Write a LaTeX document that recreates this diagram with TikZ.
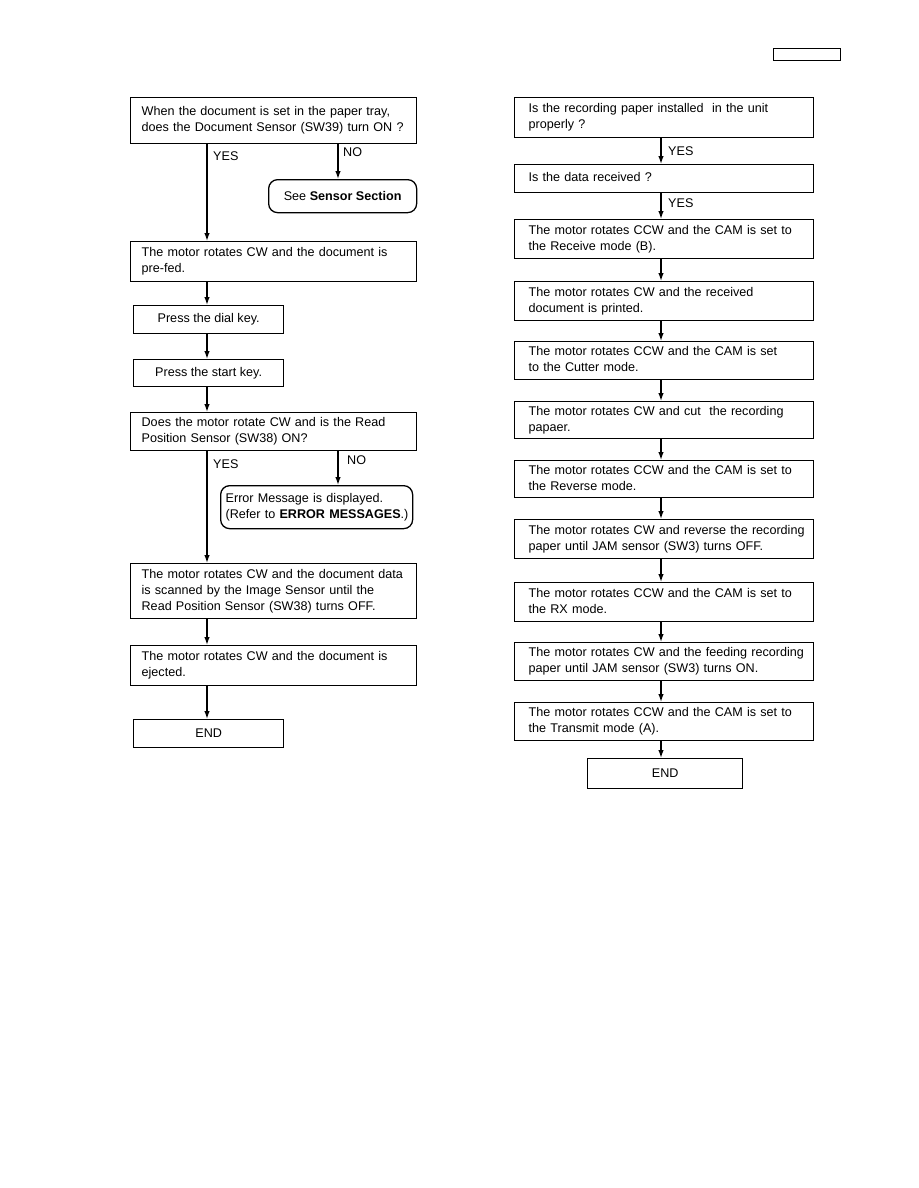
\documentclass[tikz,border=0pt]{standalone}
\usepackage{fontspec}
\setmainfont{Liberation Sans}
\usetikzlibrary{arrows.meta}

\newcommand\rows[1]{\begin{tabular}{@{}l@{}}#1\end{tabular}}

\tikzset{
  box/.style={draw, line width=1.3pt, anchor=north west, inner ysep=0pt,
    font=\fontsize{12.6}{16}\selectfont},
  leftbox/.style={box, inner xsep=11pt, text width=264pt},
  rightbox/.style={box, inner xsep=14pt, text width=271pt},
  smallbox/.style={box, align=center, inner xsep=0pt, minimum width=150pt},
  roundbox/.style={box, rounded corners=9pt},
  flow/.style={line width=1.3pt, -{Latex[length=8pt,width=5.5pt]}},
  answer/.style={anchor=west, inner sep=0pt, font=\fontsize{12.6}{16}\selectfont}
}

\begin{document}
\begin{tikzpicture}[x=1pt,y=-1pt]
  \useasboundingbox (0,0) rectangle (918,1188);
  \node[draw, line width=1.2pt, anchor=north west, minimum width=67pt, minimum height=12pt, inner sep=0pt] (tag) at (773,48) {};

  % left column
  \node[leftbox, minimum height=46pt] (L1) at (130,97) {\rows{When the document is set in the paper tray,\\does the Document Sensor (SW39) turn ON ?}};
  \node[roundbox, align=center, inner xsep=0pt, minimum width=148pt, minimum height=33pt] (sens) at (268,179) {See \textbf{Sensor Section}};
  \node[leftbox, minimum height=40pt] (L2) at (130,241) {\rows{The motor rotates CW and the document is\\pre-fed.}};
  \node[smallbox, minimum height=28pt] (L3) at (133,305) {Press the dial key.};
  \node[smallbox, minimum height=27pt] (L4) at (133,359) {Press the start key.};
  \node[leftbox, minimum height=38pt] (L5) at (130,412) {\rows{Does the motor rotate CW and is the Read\\Position Sensor (SW38) ON?}};
  \node[roundbox, inner xsep=5pt, text width=182pt, minimum height=43pt] (err) at (220,485) {\rows{Error Message is displayed.\\(Refer to \textbf{ERROR MESSAGES}.)}};
  \node[leftbox, minimum height=55pt] (L6) at (130,563) {\rows{The motor rotates CW and the document data\\is scanned by the Image Sensor until the\\Read Position Sensor (SW38) turns OFF.}};
  \node[leftbox, minimum height=40pt] (L7) at (130,645) {\rows{The motor rotates CW and the document is\\ejected.}};
  \node[smallbox, minimum height=28pt] (endL) at (133,719) {END};

  \coordinate (trunk) at (207,0);
  \coordinate (branch) at (338,0);
  \draw[flow] (trunk |- L1.south) -- (trunk |- L2.north);
  \draw[flow] (branch |- L1.south) -- (branch |- sens.north);
  \node[answer] (yes1) at (213,156) {YES};
  \node[answer] (no1) at (343,152) {NO};
  \draw[flow] (trunk |- L2.south) -- (trunk |- L3.north);
  \draw[flow] (trunk |- L3.south) -- (trunk |- L4.north);
  \draw[flow] (trunk |- L4.south) -- (trunk |- L5.north);
  \draw[flow] (trunk |- L5.south) -- (trunk |- L6.north);
  \draw[flow] (branch |- L5.south) -- (branch |- err.north);
  \node[answer] (yes2) at (213,464) {YES};
  \node[answer] (no2) at (347,460) {NO};
  \draw[flow] (trunk |- L6.south) -- (trunk |- L7.north);
  \draw[flow] (trunk |- L7.south) -- (trunk |- endL.north);

  % right column
  \foreach \n/\y/\h/\txt in {
    1/97/40/{Is the recording paper installed\ \ in the unit\\properly ?},
    2/164/28/{Is the data received ?},
    3/219/39/{The motor rotates CCW and the CAM is set to\\the Receive mode (B).},
    4/281/39/{The motor rotates CW and the received\\document is printed.},
    5/341/38/{The motor rotates CCW and the CAM is set\\to the Cutter mode.},
    6/401/37/{The motor rotates CW and cut\ \ the recording\\papaer.},
    7/460/37/{The motor rotates CCW and the CAM is set to\\the Reverse mode.},
    8/519/39/{The motor rotates CW and reverse the recording\\paper until JAM sensor (SW3) turns OFF.},
    9/582/39/{The motor rotates CCW and the CAM is set to\\the RX mode.},
    10/642/38/{The motor rotates CW and the feeding recording\\paper until JAM sensor (SW3) turns ON.},
    11/702/38/{The motor rotates CCW and the CAM is set to\\the Transmit mode (A).}}
    \node[rightbox, minimum height=\h pt] (R\n) at (514,\y) {\rows{\txt}};
  \node[box, align=center, inner xsep=0pt, minimum width=155pt, minimum height=30pt] (endR) at (587,758) {END};

  \coordinate (spine) at (661,0);
  \foreach \a/\b in {1/2,2/3,3/4,4/5,5/6,6/7,7/8,8/9,9/10,10/11}
    \draw[flow] (spine |- R\a.south) -- (spine |- R\b.north);
  \draw[flow] (spine |- R11.south) -- (spine |- endR.north);
  \node[answer] (yes3) at (668,151) {YES};
  \node[answer] (yes4) at (668,203) {YES};
\end{tikzpicture}
\end{document}
